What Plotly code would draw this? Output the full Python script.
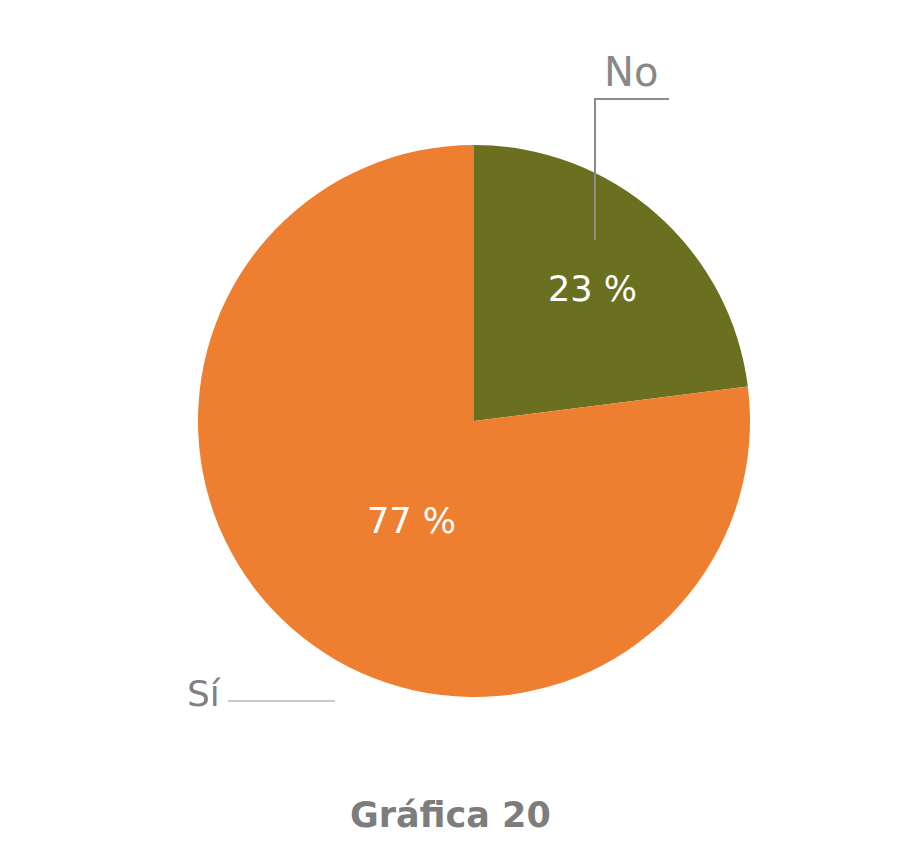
import plotly.graph_objects as go

labels = ["No", "Sí"]
values = [23, 77]
colors = ["#6b7021", "#ee7f30"]
title_text = "Gráfica 20"

W, H = 923, 852
OFF = 8  # page body margin offset
cx, cy, r = 474 - OFF, 421 - OFF, 276

def px(x): return (x - OFF) / W
def py(y): return 1 - (y - OFF) / H

fig = go.Figure(go.Pie(
    labels=labels,
    values=values,
    sort=False,
    direction="clockwise",
    rotation=0,
    marker=dict(colors=colors, line=dict(width=0)),
    textinfo="none",
    hoverinfo="label+percent",
    showlegend=False,
    domain=dict(x=[(cx - r) / W, (cx + r) / W], y=[(H - cy - r) / H, (H - cy + r) / H]),
))

gray = "#8c8c8c"
shapes = [
    dict(type="line", xref="paper", yref="paper", x0=px(594), y0=py(99), x1=px(669), y1=py(99),
         line=dict(color=gray, width=2)),
    dict(type="line", xref="paper", yref="paper", x0=px(595), y0=py(99), x1=px(595), y1=py(240),
         line=dict(color=gray, width=2)),
    dict(type="line", xref="paper", yref="paper", x0=px(228), y0=py(701), x1=px(335), y1=py(701),
         line=dict(color="#b8b8b8", width=1.5)),
]

font = "DejaVu Sans"
inside_pos = [(592, 289), (411, 521)]
annotations = [
    dict(text=labels[0], x=px(631), y=py(72), xref="paper", yref="paper", showarrow=False,
         font=dict(family=font, size=40, color="#888888"), xanchor="center", yanchor="middle"),
    dict(text=labels[1], x=px(204), y=py(693), xref="paper", yref="paper", showarrow=False,
         font=dict(family=font, size=36, color="#808080"), xanchor="center", yanchor="middle"),
    dict(text="<b>" + title_text + "</b>", x=px(450), y=py(815), xref="paper", yref="paper", showarrow=False,
         font=dict(family=font, size=35, color="#7d7d7d"), xanchor="center", yanchor="middle"),
]
for v, (x, y) in zip(values, inside_pos):
    annotations.append(dict(text=f"{v} %", x=px(x), y=py(y), xref="paper", yref="paper", showarrow=False,
                            font=dict(family=font, size=35, color="white"),
                            xanchor="center", yanchor="middle"))

fig.update_layout(
    width=W, height=H,
    margin=dict(l=0, r=0, t=0, b=0),
    paper_bgcolor="white", plot_bgcolor="white",
    shapes=shapes, annotations=annotations,
)

fig.write_html("out.html")
